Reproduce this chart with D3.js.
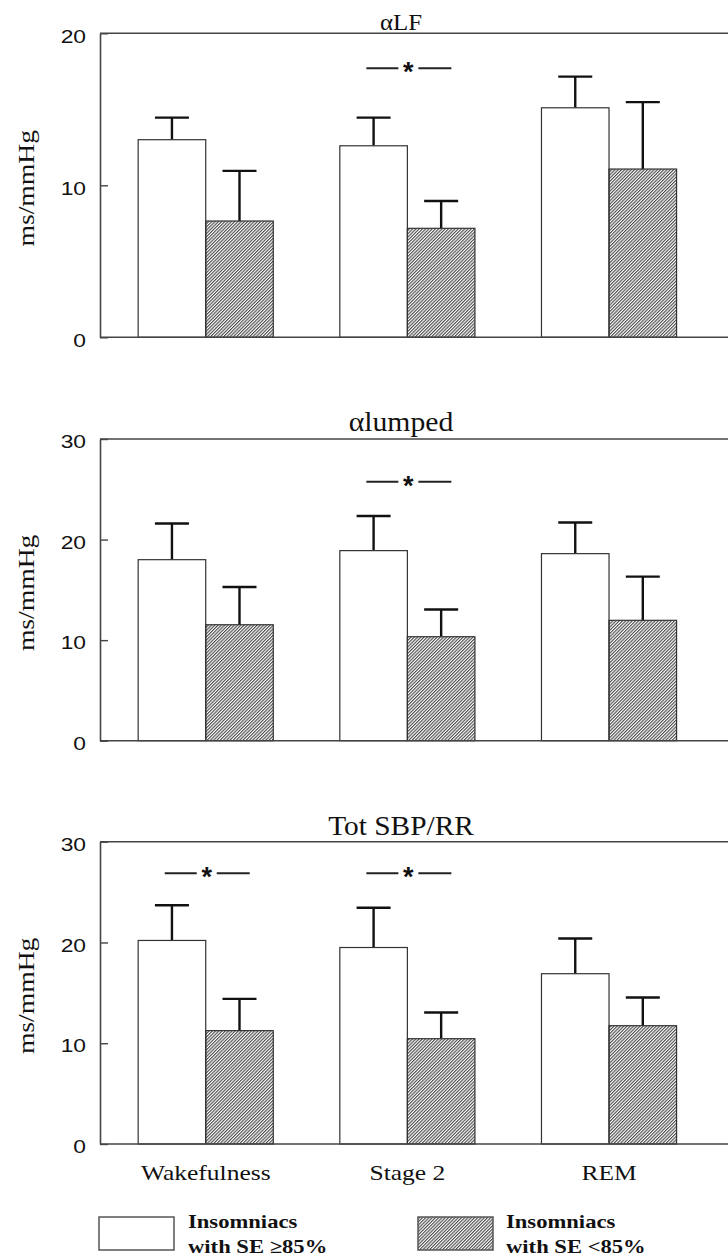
<!DOCTYPE html>
<html lang="en">
<head>
  <meta charset="utf-8">
  <title>Baroreflex sensitivity by sleep stage</title>
  <script src="https://d3js.org/d3.v7.min.js"></script>
  <style>
    body { margin: 0; background: #fff; }
  </style>
</head>
<body>
<div id="chart"></div>
<script>
"use strict"

// ---- data ----
var categories = ["Wakefulness", "Stage 2", "REM"];
var seriesNames = ["Insomniacs\nwith SE \u226585%", "Insomniacs\nwith SE <85%"];
var titles = ["\u03b1LF", "\u03b1lumped", "Tot SBP/RR"];
var yMax = [20, 30, 30];
var yTicks = [[0, 10, 20], [0, 10, 20, 30], [0, 10, 20, 30]];

// means (SE >= 85%) and (SE < 85%), one array per panel
var goodMean = [[13.0, 12.6, 15.1], [18.0, 18.9, 18.6], [20.2, 19.5, 16.9]];
var goodErr  = [[1.45, 1.85, 2.05], [3.6, 3.45, 3.1], [3.5, 3.95, 3.5]];
var poorMean = [[7.65, 7.17, 11.07], [11.53, 10.34, 11.97], [11.25, 10.45, 11.74]];
var poorErr  = [[3.3, 1.8, 4.4], [3.75, 2.7, 4.35], [3.15, 2.6, 2.8]];

// significance markers: groups and the level (in data units) of the "—*—"
var sigGroups = [["Stage 2"], ["Stage 2"], ["Wakefulness", "Stage 2"]];
var sigLevel = [17.7, 25.75, 26.86];

// ---- layout ----
var width = 728, height = 1260;
var left = 100, right = 728;
var panelTop = [33.3, 439, 841.7];
var panelH = [304, 301.7, 302.3];
var titleY = [30, 431, 835];
var titleSize = [23, 27, 28];
var titleSx = [1.08, 1.1, 1.05];
var ink = "#111", frame = "#444";
var SERIF = "'Liberation Serif', 'Times New Roman', Times, serif";
var SANS = "'Liberation Sans', Arial, Helvetica, sans-serif";

var svg = d3.select("#chart").append("svg")
    .attr("width", width)
    .attr("height", height);

var defs = svg.append("defs");
defs.append("pattern")
    .attr("id", "hatch")
    .attr("patternUnits", "userSpaceOnUse")
    .attr("width", 2.3).attr("height", 2.3)
    .attr("patternTransform", "rotate(45)")
  .append("line")
    .attr("x1", 0.6).attr("y1", 0).attr("x2", 0.6).attr("y2", 2.3)
    .attr("stroke", "#333").attr("stroke-width", 1.0);

// text with a slight horizontal stretch like the original scan
function stretchText(parent, x, y, str, family, size, sx, anchor, rot, weight) {
  var g = parent.append("g")
      .attr("transform", "translate(" + x + "," + y + ")" + (rot ? " rotate(" + rot + ")" : "") + " scale(" + sx + ",1)");
  return g.append("text")
      .style("font-family", family)
      .style("font-size", size + "px")
      .style("font-weight", weight || "normal")
      .attr("fill", ink)
      .attr("text-anchor", anchor || "middle")
      .text(str);
}

var x = d3.scaleBand()
    .domain(categories)
    .range([104.9, 709.85])
    .paddingInner(0.33)
    .paddingOuter(0.165);

var xs = d3.scaleBand()
    .domain([0, 1])
    .range([0, x.bandwidth()]);

titles.forEach(function (title, p) {
  var top = panelTop[p], bottom = top + panelH[p];
  var y = d3.scaleLinear().domain([0, yMax[p]]).range([bottom, top]);
  var g = svg.append("g");

  // frame: left axis with inward ticks
  var axis = g.append("g")
      .attr("transform", "translate(" + left + ",0)")
      .call(d3.axisLeft(y).tickValues(yTicks[p]).tickSizeInner(-8).tickSizeOuter(0).tickPadding(14));
  axis.select(".domain").attr("stroke", frame).attr("stroke-width", 1.6);
  axis.selectAll(".tick line").attr("stroke", frame).attr("stroke-width", 1.4);
  axis.selectAll(".tick text")
      .style("font-family", SANS)
      .style("font-size", "19px")
      .attr("fill", ink)
      .attr("x", -14 / 1.2)
      .attr("dy", "0.46em")
      .attr("transform", "scale(1.2,1)");

  g.append("line")
      .attr("x1", left).attr("x2", right)
      .attr("y1", y(yMax[p])).attr("y2", y(yMax[p]))
      .attr("stroke", frame).attr("stroke-width", 1.6);

  // bars
  var rows = categories.map(function (c, i) {
    return [
      { cat: c, s: 0, v: goodMean[p][i], e: goodErr[p][i] },
      { cat: c, s: 1, v: poorMean[p][i], e: poorErr[p][i] }
    ];
  });
  var flat = [].concat.apply([], rows);

  // error bars (behind bars)
  var eb = g.selectAll(".eb").data(flat).enter().append("g").attr("class", "eb");
  eb.append("line")
      .attr("x1", function (d) { return x(d.cat) + xs(d.s) + xs.bandwidth() / 2; })
      .attr("x2", function (d) { return x(d.cat) + xs(d.s) + xs.bandwidth() / 2; })
      .attr("y1", function (d) { return y(d.v); })
      .attr("y2", function (d) { return y(d.v + d.e); })
      .attr("stroke", ink).attr("stroke-width", 2.4);
  eb.append("line")
      .attr("x1", function (d) { return x(d.cat) + xs(d.s) + xs.bandwidth() / 2 - 17; })
      .attr("x2", function (d) { return x(d.cat) + xs(d.s) + xs.bandwidth() / 2 + 17; })
      .attr("y1", function (d) { return y(d.v + d.e); })
      .attr("y2", function (d) { return y(d.v + d.e); })
      .attr("stroke", ink).attr("stroke-width", 2.4);

  g.selectAll(".bar").data(flat).enter().append("rect")
      .attr("class", "bar")
      .attr("x", function (d) { return x(d.cat) + xs(d.s); })
      .attr("width", xs.bandwidth())
      .attr("y", function (d) { return y(d.v); })
      .attr("height", function (d) { return bottom - y(d.v); })
      .attr("fill", function (d) { return d.s === 0 ? "#fff" : "url(#hatch)"; })
      .attr("stroke", "#333").attr("stroke-width", 1.2);

  // bottom line on top of bars
  g.append("line")
      .attr("x1", left).attr("x2", right)
      .attr("y1", bottom).attr("y2", bottom)
      .attr("stroke", frame).attr("stroke-width", 1.6);

  // significance "—*—"
  sigGroups[p].forEach(function (c) {
    var cx = x(c) + x.bandwidth() / 2, sy = y(sigLevel[p]);
    g.append("line").attr("x1", cx - 41).attr("x2", cx - 9).attr("y1", sy).attr("y2", sy)
        .attr("stroke", "#222").attr("stroke-width", 2);
    g.append("line").attr("x1", cx + 11).attr("x2", cx + 44).attr("y1", sy).attr("y2", sy)
        .attr("stroke", "#222").attr("stroke-width", 2);
    g.append("text")
        .style("font-family", SANS)
        .style("font-size", "27px")
        .style("font-weight", "bold")
        .attr("fill", ink)
        .attr("x", cx + 1).attr("y", sy + 13)
        .attr("text-anchor", "middle")
        .text("*");
  });

  // title and y label
  stretchText(g, 401, titleY[p], title, SERIF, titleSize[p], titleSx[p]);
  stretchText(g, 34, (top + bottom) / 2 + 3, "ms/mmHg", SERIF, 24, 1.15, "middle", -90);
});

// category labels under the last panel
categories.forEach(function (c) {
  stretchText(svg, x(c) + x.bandwidth() / 2, 1180, c, SERIF, 22, 1.16);
});

// legend
var legX = [99, 418], legTextX = [188, 506];
seriesNames.forEach(function (name, i) {
  svg.append("rect")
      .attr("x", legX[i]).attr("y", 1217)
      .attr("width", 75).attr("height", 33)
      .attr("fill", i === 0 ? "#fff" : "url(#hatch)")
      .attr("stroke", "#555").attr("stroke-width", 1.5);
  name.split("\n").forEach(function (line, k) {
    stretchText(svg, legTextX[i], 1228 + k * 25, line, SERIF, 19, 1.19, "start", 0, "bold");
  });
});
</script>
</body>
</html>
